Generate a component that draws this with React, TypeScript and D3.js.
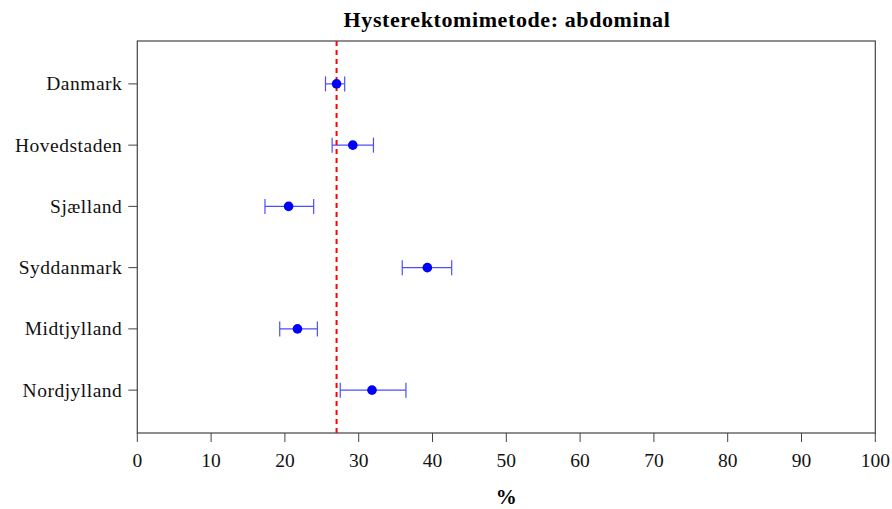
import React from "react";
import * as d3 from "d3";

const regions = ["Danmark", "Hovedstaden", "Sjælland", "Syddanmark", "Midtjylland", "Nordjylland"];
const estimates = [27.0, 29.2, 20.5, 39.3, 21.7, 31.8];
const lowerCI = [25.5, 26.4, 17.3, 35.9, 19.3, 27.5];
const upperCI = [28.1, 32.0, 23.9, 42.6, 24.4, 36.4];
const referenceValue = 27.0;
const xTicks = [0, 10, 20, 30, 40, 50, 60, 70, 80, 90, 100];
const title = "Hysterektomimetode: abdominal";
const xLabel = "%";

const W = 892, H = 509;
const left = 137.3, right = 875.3, top = 41, bottom = 433;
const font = "'Liberation Serif', 'Times New Roman', serif";

export default function App() {
  const x = d3.scaleLinear().domain([0, 100]).range([left, right]);
  const y = d3.scaleLinear().domain([0.3, 6.7]).range([top, bottom]);
  const blue = "#0000ff";
  return (
    <svg width={W} height={H} style={{ position: "absolute", left: 0, top: 0, background: "#fff" }}>
      <text x={507} y={27} textAnchor="middle" fontFamily={font} fontWeight="bold" fontSize={22} letterSpacing={0.6} fill="#000">
        {title}
      </text>
      <rect x={left} y={top} width={right - left} height={bottom - top} fill="none" stroke="#444" strokeWidth={1.2} />
      {regions.map((r, i) => (
        <g key={r}>
          <line x1={left - 9} x2={left} y1={y(i + 1)} y2={y(i + 1)} stroke="#444" />
          <text x={left - 15} y={y(i + 1) + 6.5} textAnchor="end" fontFamily={font} fontSize={19.5} letterSpacing={0.5} fill="#111">{r}</text>
        </g>
      ))}
      {xTicks.map((t) => (
        <g key={t}>
          <line x1={x(t)} x2={x(t)} y1={bottom} y2={bottom + 9} stroke="#444" />
          <text x={x(t)} y={bottom + 34} textAnchor="middle" fontFamily={font} fontSize={19.5} fill="#111">{t}</text>
        </g>
      ))}
      <text x={x(50)} y={504} textAnchor="middle" fontFamily={font} fontWeight="bold" fontSize={21} fill="#000">{xLabel}</text>
      {regions.map((r, i) => {
        const cy = y(i + 1);
        return (
          <g key={"e" + r} stroke="#4d4dff" strokeWidth={1.2}>
            <line x1={x(lowerCI[i])} x2={x(upperCI[i])} y1={cy} y2={cy} />
            <line x1={x(lowerCI[i])} x2={x(lowerCI[i])} y1={cy - 7.5} y2={cy + 7.5} />
            <line x1={x(upperCI[i])} x2={x(upperCI[i])} y1={cy - 7.5} y2={cy + 7.5} />
          </g>
        );
      })}
      <line x1={x(referenceValue)} x2={x(referenceValue)} y1={top} y2={bottom} stroke="#ff0000" strokeWidth={2} strokeDasharray="5,4" />
      {regions.map((r, i) => (
        <circle key={"c" + r} cx={x(estimates[i])} cy={y(i + 1)} r={4.8} fill={blue} />
      ))}
    </svg>
  );
}
